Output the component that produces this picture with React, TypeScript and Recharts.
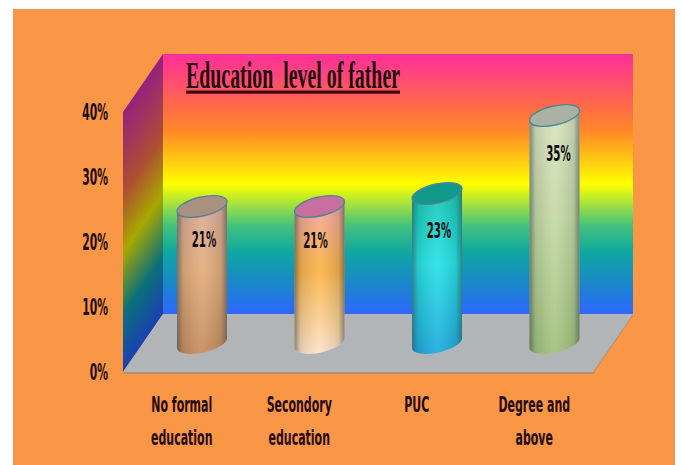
import React from 'react';
import { BarChart, Bar, XAxis, YAxis, Customized, LabelList } from 'recharts';

const categories = ['No formal\neducation', 'Secondory\neducation', 'PUC', 'Degree and\nabove'];
const shares = [21, 21, 23, 35];
const yTicks = [0, 10, 20, 30, 40];

// top cap, then body colours from top to bottom
const capColors = ['#a8917f', '#c7709f', '#0f9a8c', '#a9b2a3'];
const bodyColors = [
  ['#d9aa96', '#e4aa78', '#c48a58'],
  ['#f2a3a6', '#fbb03f', '#fde2c8'],
  ['#0fc4ae', '#20e2e4', '#18a6dc'],
  ['#dbe3bf', '#c3d8a2', '#a0bf78'],
];
// distance of the value label below the cap centre, per bar
const labelDrop = [32, 33, 36, 37];

const WIDTH = 681;
const HEIGHT = 465;
const PLOT = { left: 123, right: 593, top: 112, bottom: 372 };
const DEPTH_X = 40;
const DEPTH_Y = 58;
const NARROW = '"Liberation Sans Narrow", "DejaVu Sans Condensed", sans-serif';
const INK = '#24090f';

const backStops: [number, string][] = [
  [0, '#ff2e9c'],
  [0.18, '#ff6450'],
  [0.3, '#ff8a26'],
  [0.5, '#ffff00'],
  [0.66, '#43c27c'],
  [0.76, '#0fa8a0'],
  [0.88, '#1a88c8'],
  [1, '#3066ff'],
];
const sideStops: [number, string][] = [
  [0, '#96207e'],
  [0.32, '#ad5030'],
  [0.54, '#a8a800'],
  [0.78, '#0b7078'],
  [1, '#1a40b4'],
];

const Scene = () => {
  const backL = PLOT.left + DEPTH_X;
  const backR = PLOT.right + DEPTH_X;
  const backT = PLOT.top - DEPTH_Y;
  const backB = PLOT.bottom - DEPTH_Y;
  // side wall colour bands run along the receding edge
  const nx = DEPTH_Y / Math.hypot(DEPTH_X, DEPTH_Y);
  const ny = DEPTH_X / Math.hypot(DEPTH_X, DEPTH_Y);
  const span = (backB - backT) * ny;
  return (
    <g>
      <defs>
        <linearGradient id="backWall" x1="0" y1="0" x2="0" y2="1">
          {backStops.map(([o, c]) => <stop key={o} offset={o} stopColor={c} />)}
        </linearGradient>
        <linearGradient
          id="sideWall"
          gradientUnits="userSpaceOnUse"
          x1={backL}
          y1={backT}
          x2={backL + nx * span}
          y2={backT + ny * span}
        >
          {sideStops.map(([o, c]) => <stop key={o} offset={o} stopColor={c} />)}
        </linearGradient>
      </defs>
      <rect x={13} y={9} width={662} height={HEIGHT - 9} fill="#f99746" />
      <rect x={backL} y={backT} width={backR - backL} height={backB - backT} fill="url(#backWall)" />
      <polygon
        points={`${PLOT.left},${PLOT.top} ${backL},${backT} ${backL},${backB} ${PLOT.left},${PLOT.bottom}`}
        fill="url(#sideWall)"
      />
      <polygon
        points={`${PLOT.left},${PLOT.bottom + 2} ${PLOT.right},${PLOT.bottom + 2} ${backR},${backB + 2} ${backR - 1},${backB} ${PLOT.right},${PLOT.bottom} ${PLOT.left},${PLOT.bottom}`}
        fill="#b9906f"
      />
      <polygon
        points={`${PLOT.left},${PLOT.bottom} ${PLOT.right},${PLOT.bottom} ${backR},${backB} ${backL},${backB}`}
        fill="#b2b5b8"
      />
      <g transform="translate(186,87.5) scale(0.537,1)">
        <text
          fontFamily='"Liberation Serif", serif'
          fontWeight="bold"
          fontSize={37}
          fill={INK}
          style={{ whiteSpace: 'pre' }}
        >
          {'Education  level of father'}
        </text>
      </g>
      <rect x={186} y={90.5} width={214} height={3.2} fill="#3d0714" />
    </g>
  );
};

// Tilted cylinder standing halfway back on the floor
const Cylinder = (props: any) => {
  const { x, y, width, height, index } = props;
  const rx = width / 2 + 0.5;
  const ry = 9.5;
  const tilt = -13;
  const cx = x + width / 2 + DEPTH_X / 2;
  const top = y - DEPTH_Y / 2;
  const bottom = y + height - DEPTH_Y / 2;
  const dy = 5.6;
  const l = cx - width / 2;
  const r = cx + width / 2;
  const body = `M${l},${top + dy} L${l},${bottom + dy} A${rx},${ry} ${tilt} 0 0 ${r},${bottom - dy} L${r},${top - dy} Z`;
  const [c1, c2, c3] = bodyColors[index];
  return (
    <g>
      <defs>
        <linearGradient id={`body${index}`} x1="0" y1="0" x2="0" y2="1">
          <stop offset="0" stopColor={c1} />
          <stop offset="0.45" stopColor={c2} />
          <stop offset="1" stopColor={c3} />
        </linearGradient>
        <linearGradient id={`shade${index}`} x1="0" y1="0" x2="1" y2="0">
          <stop offset="0" stopColor="#3a4a50" stopOpacity={0.6} />
          <stop offset="0.12" stopColor="#3a4a50" stopOpacity={0.15} />
          <stop offset="0.5" stopColor="#ffffff" stopOpacity={0.1} />
          <stop offset="0.88" stopColor="#3a4a50" stopOpacity={0.15} />
          <stop offset="1" stopColor="#3a4a50" stopOpacity={0.6} />
        </linearGradient>
      </defs>
      <path d={body} fill={`url(#body${index})`} />
      <path d={body} fill={`url(#shade${index})`} />
      <ellipse
        cx={cx}
        cy={top}
        rx={rx}
        ry={ry}
        transform={`rotate(${tilt} ${cx} ${top})`}
        fill={capColors[index]}
        stroke="#4f8497"
        strokeWidth={1.4}
      />
    </g>
  );
};

const ValueLabel = (props: any) => {
  const { x, y, width, value, index } = props;
  const cx = x + width / 2 + DEPTH_X / 2 + (index === 3 ? 4 : index === 1 ? -4 : 2);
  const cy = y - DEPTH_Y / 2 + labelDrop[index] + 8;
  return (
    <g transform={`translate(${cx},${cy}) scale(0.52,1)`}>
      <text textAnchor="middle" fontFamily={NARROW} fontWeight="bold" fontSize={22} fill="#0c0a0a">
        {`${value}%`}
      </text>
    </g>
  );
};

const YTick = (props: any) => {
  const { x, y, payload } = props;
  return (
    <g transform={`translate(${x},${y + 8}) scale(0.52,1)`}>
      <text textAnchor="end" fontFamily={NARROW} fontWeight="bold" fontSize={23} fill={INK}>
        {`${payload.value}%`}
      </text>
    </g>
  );
};

const XTick = (props: any) => {
  const { x, y, payload } = props;
  const lines = String(payload.value).split('\n');
  return (
    <g>
      {lines.map((line, i) => (
        <g key={line} transform={`translate(${x},${y + 24 + i * 33}) scale(0.555,1)`}>
          <text textAnchor="middle" fontFamily={NARROW} fontWeight="bold" fontSize={22} fill={INK}>
            {line}
          </text>
        </g>
      ))}
    </g>
  );
};

const data = categories.map((name, i) => ({ name, share: shares[i] }));

export default function App() {
  return (
    <div style={{ position: 'absolute', left: 0, top: 0, width: WIDTH, height: HEIGHT, background: '#fff', overflow: 'hidden' }}>
      <BarChart
        width={WIDTH}
        height={HEIGHT}
        data={data}
        barSize={50}
        margin={{ left: PLOT.left - 60, right: WIDTH - PLOT.right, top: PLOT.top, bottom: HEIGHT - PLOT.bottom - 60 }}
      >
        <Customized component={Scene} />
        <XAxis dataKey="name" height={60} interval={0} axisLine={false} tickLine={false} tick={<XTick />} tickMargin={10} />
        <YAxis width={60} domain={[0, 40]} ticks={yTicks} axisLine={false} tickLine={false} tick={<YTick />} tickMargin={9} />
        <Bar dataKey="share" shape={<Cylinder />} isAnimationActive={false}>
          <LabelList dataKey="share" content={<ValueLabel />} />
        </Bar>
      </BarChart>
    </div>
  );
}
